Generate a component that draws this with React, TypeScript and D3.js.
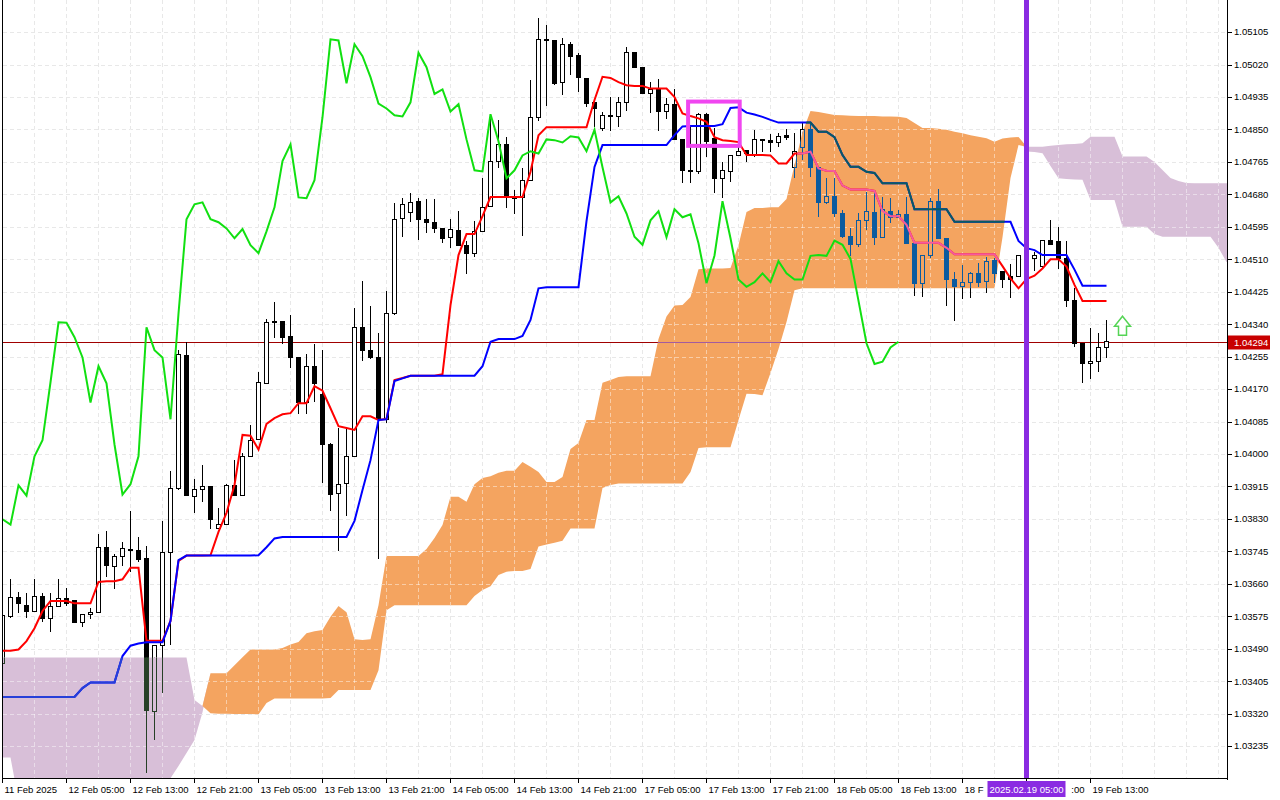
import React, { useEffect, useRef } from "react";
import * as d3 from "d3";

// EURUSD H1, bar 0 = 11 Feb 21:00. Prices in points (1 point = 0.00001)
const opens = [
  103452, 103574, 103625, 103604, 103588, 103627, 103570, 103601, 103622, 103617,
  103559, 103580, 103585, 103756, 103706, 103732, 103750, 103748, 103727, 103326,
  103499, 103742, 103910, 104258, 103890, 103908, 103915, 103805, 103816, 103918,
  103891, 103994, 104039, 104185, 104348, 104348, 104308, 104253, 104135, 104230,
  104156, 104025, 103897, 103923, 103994, 104332, 104272, 104253, 104091, 104368,
  104617, 104633, 104662, 104615, 104607, 104591, 104568, 104586, 104547, 104526,
  104583, 104649, 104767, 104811, 104675, 104672, 104717, 104882, 105086, 105083,
  104973, 105073, 105044, 104984, 104921, 104853, 104887, 104884, 104921, 105051,
  105013, 104945, 104955, 104897, 104916, 104824, 104743, 104740, 104890, 104827,
  104722, 104740, 104782, 104795, 104785, 104824, 104822, 104816, 104835, 104751,
  104803, 104849, 104751, 104659, 104675, 104630, 104570, 104548, 104612, 104633,
  104568, 104636, 104620, 104628, 104552, 104447, 104520, 104662, 104565, 104457,
  104439, 104450, 104473, 104452, 104507, 104478, 104464, 104465, 104519, 104513,
  104491, 104559, 104556, 104511, 104401, 104290, 104236, 104242, 104279,
];
const highs = [
  103591, 103673, 103638, 103635, 103674, 103635, 103635, 103674, 103648, 103618,
  103581, 103596, 103790, 103798, 103737, 103769, 103852, 103784, 103758, 103499,
  103824, 103955, 104272, 104294, 103934, 103971, 103915, 103858, 103921, 103984,
  104003, 104075, 104216, 104353, 104397, 104348, 104363, 104253, 104261, 104287,
  104272, 104028, 104067, 104072, 104382, 104452, 104387, 104316, 104426, 104657,
  104670, 104683, 104670, 104667, 104667, 104591, 104615, 104636, 104557, 104609,
  104722, 104890, 104874, 104829, 104691, 104748, 104979, 105141, 105123, 105083,
  105089, 105078, 105049, 104984, 104921, 104897, 104936, 104936, 105065, 105053,
  105013, 104973, 104981, 104932, 104955, 104824, 104861, 104892, 104892, 104853,
  104764, 104782, 104803, 104795, 104848, 104824, 104837, 104840, 104850, 104840,
  104866, 104866, 104751, 104722, 104722, 104639, 104591, 104630, 104687, 104687,
  104672, 104670, 104638, 104672, 104552, 104520, 104670, 104693, 104565, 104476,
  104494, 104477, 104499, 104515, 104513, 104478, 104497, 104519, 104534, 104530,
  104559, 104613, 104594, 104559, 104434, 104290, 104329, 104316, 104351,
];
const lows = [
  103447, 103571, 103583, 103571, 103588, 103561, 103535, 103601, 103601, 103558,
  103546, 103567, 103585, 103677, 103646, 103708, 103690, 103716, 103166, 103250,
  103375, 103499, 103906, 103891, 103845, 103875, 103803, 103805, 103816, 103891,
  103891, 103994, 104039, 104185, 104303, 104287, 104224, 104104, 104104, 104135,
  103923, 103852, 103745, 103839, 103994, 104243, 104248, 103724, 104080, 104364,
  104569, 104607, 104560, 104578, 104578, 104552, 104539, 104547, 104471, 104515,
  104583, 104649, 104748, 104643, 104628, 104570, 104717, 104871, 104911, 104966,
  104939, 104992, 104947, 104908, 104856, 104845, 104847, 104857, 104898, 105013,
  104943, 104892, 104847, 104877, 104824, 104709, 104709, 104733, 104777, 104683,
  104670, 104712, 104780, 104765, 104777, 104790, 104790, 104803, 104822, 104722,
  104770, 104726, 104622, 104654, 104620, 104565, 104519, 104543, 104586, 104547,
  104568, 104604, 104620, 104549, 104415, 104412, 104513, 104565, 104388, 104349,
  104405, 104409, 104438, 104422, 104447, 104434, 104409, 104465, 104503, 104480,
  104486, 104548, 104485, 104386, 104281, 104187, 104197, 104216, 104251,
];
const closes = [
  103578, 103625, 103609, 103588, 103627, 103570, 103601, 103622, 103609, 103558,
  103580, 103585, 103756, 103708, 103732, 103753, 103748, 103724, 103328, 103499,
  103742, 103910, 104261, 103891, 103908, 103914, 103829, 103815, 103918, 103891,
  103994, 104036, 104188, 104345, 104344, 104306, 104253, 104135, 104230, 104185,
  104025, 103894, 103921, 103994, 104332, 104272, 104253, 104091, 104368, 104615,
  104654, 104659, 104615, 104607, 104591, 104565, 104589, 104547, 104526, 104583,
  104646, 104767, 104811, 104672, 104670, 104717, 104882, 105086, 105083, 104971,
  105073, 105042, 104987, 104918, 104905, 104887, 104884, 104921, 105051, 105013,
  104943, 104955, 104897, 104916, 104824, 104743, 104740, 104890, 104819, 104722,
  104743, 104782, 104793, 104787, 104824, 104822, 104816, 104832, 104829, 104793,
  104849, 104751, 104659, 104675, 104630, 104569, 104548, 104612, 104636, 104568,
  104641, 104620, 104628, 104552, 104447, 104520, 104662, 104565, 104457, 104438,
  104450, 104473, 104450, 104505, 104473, 104457, 104457, 104519, 104521, 104519,
  104559, 104548, 104511, 104401, 104290, 104236, 104242, 104279, 104294,
];

// Tenkan-sen and Kijun-sen, one value per bar
const tenkan = [
  103485, 103485, 103488, 103510, 103544, 103589, 103615, 103615, 103615, 103609,
  103609, 103609, 103665, 103667, 103667, 103672, 103702, 103702, 103511, 103511,
  103511, 103563, 103720, 103734, 103734, 103734, 103735, 103796, 103846, 103919,
  104050, 104048, 104012, 104079, 104094, 104104, 104107, 104133, 104133, 104178,
  104166, 104120, 104073, 104068, 104063, 104099, 104099, 104089, 104092, 104194,
  104199, 104205, 104205, 104205, 104205, 104209, 104390, 104521, 104576, 104576,
  104623, 104673, 104673, 104673, 104673, 104673, 104739, 104835, 104856, 104856,
  104856, 104856, 104856, 104856, 104927, 104988, 104985, 104974, 104966, 104964,
  104964, 104957, 104957, 104957, 104935, 104892, 104885, 104879, 104870, 104830,
  104822, 104820, 104817, 104783, 104783, 104783, 104782, 104761, 104761, 104787,
  104787, 104792, 104748, 104742, 104741, 104703, 104693, 104693, 104693, 104689,
  104636, 104623, 104623, 104600, 104553, 104553, 104553, 104553, 104540, 104523,
  104523, 104523, 104523, 104523, 104523, 104492, 104460, 104434, 104458, 104467,
  104486, 104510, 104510, 104491, 104443, 104401, 104401, 104401, 104401,
];
const kijun = [
  103364, 103364, 103364, 103364, 103364, 103364, 103364, 103364, 103364, 103364,
  103387, 103402, 103402, 103402, 103402, 103471, 103498, 103504, 103507, 103507,
  103507, 103563, 103722, 103734, 103734, 103734, 103734, 103734, 103734, 103734,
  103734, 103734, 103735, 103756, 103779, 103783, 103783, 103783, 103783, 103783,
  103783, 103783, 103783, 103783, 103825, 103906, 103984, 104089, 104091, 104191,
  104198, 104205, 104205, 104205, 104205, 104205, 104205, 104205, 104205, 104205,
  104230, 104294, 104301, 104301, 104301, 104309, 104351, 104434, 104437, 104437,
  104437, 104437, 104437, 104610, 104752, 104809, 104809, 104809, 104809, 104809,
  104809, 104809, 104809, 104809, 104835, 104858, 104859, 104859, 104859, 104859,
  104864, 104906, 104908, 104894, 104889, 104883, 104875, 104868, 104868, 104868,
  104868, 104868, 104844, 104844, 104830, 104783, 104752, 104752, 104739, 104736,
  104709, 104709, 104709, 104709, 104641, 104641, 104641, 104641, 104641, 104608,
  104608, 104608, 104608, 104608, 104608, 104608, 104608, 104558, 104539, 104534,
  104521, 104521, 104521, 104521, 104483, 104441, 104441, 104441, 104441,
];

// Senkou span A / B as plotted (already shifted 26 bars ahead)
const spanA = [
  103205, 103205, 103094, 103094, 103094, 103094, 103094, 103094, 103094, 103094,
  103094, 103094, 103094, 103094, 103094, 103094, 103094, 103094, 103094, 103094,
  103120, 103151, 103183, 103217, 103251, 103324, 103426, 103426, 103426, 103447,
  103468, 103488, 103488, 103488, 103488, 103492, 103501, 103508, 103531, 103536,
  103539, 103574, 103602, 103586, 103515, 103513, 103515, 103604, 103733, 103733,
  103733, 103733, 103733, 103751, 103780, 103814, 103888, 103888, 103875, 103921,
  103937, 103942, 103951, 103956, 103956, 103979, 103967, 103953, 103927, 103927,
  103940, 104013, 104029, 104089, 104089, 104187, 104194, 104202, 104204, 104204,
  104204, 104204, 104301, 104360, 104389, 104390, 104411, 104484, 104486, 104486,
  104486, 104487, 104547, 104634, 104644, 104644, 104646, 104646, 104668, 104757,
  104843, 104898, 104896, 104892, 104888, 104887, 104886, 104885, 104885, 104885,
  104884, 104884, 104883, 104880, 104867, 104854, 104854, 104852, 104849, 104844,
  104840, 104835, 104831, 104827, 104818, 104826, 104829, 104830, 104792, 104791,
  104788, 104754, 104722, 104720, 104719, 104718, 104665, 104665, 104665, 104665,
  104595, 104595, 104595, 104595, 104576, 104569, 104569, 104569, 104569, 104569,
  104569, 104569, 104540, 104503, 104498, 104500,
];
const spanB = [
  103467, 103467, 103467, 103467, 103467, 103467, 103467, 103467, 103467, 103467,
  103467, 103467, 103467, 103467, 103467, 103467, 103467, 103467, 103467, 103467,
  103467, 103467, 103467, 103467, 103356, 103340, 103321, 103320, 103320, 103319,
  103319, 103319, 103318, 103348, 103360, 103360, 103360, 103360, 103360, 103360,
  103360, 103361, 103382, 103382, 103382, 103382, 103382, 103434, 103591, 103604,
  103604, 103604, 103604, 103604, 103604, 103604, 103604, 103604, 103604, 103628,
  103644, 103654, 103683, 103692, 103694, 103694, 103699, 103758, 103763, 103768,
  103773, 103805, 103805, 103805, 103805, 103911, 103919, 103923, 103923, 103923,
  103923, 103923, 103923, 103923, 103923, 103923, 103953, 104016, 104018, 104018,
  104018, 104018, 104089, 104158, 104157, 104154, 104212, 104275, 104346, 104429,
  104434, 104434, 104434, 104434, 104434, 104434, 104434, 104434, 104434, 104434,
  104434, 104434, 104434, 104434, 104434, 104434, 104434, 104434, 104434, 104434,
  104434, 104434, 104434, 104434, 104434, 104568, 104723, 104809, 104805, 104805,
  104805, 104807, 104809, 104811, 104812, 104814, 104831, 104831, 104831, 104831,
  104779, 104779, 104779, 104779, 104765, 104744, 104723, 104715, 104710, 104709,
  104709, 104709, 104709, 104709, 104709, 104709,
];

const priceTicks = [
  "1.05105", "1.05020", "1.04935", "1.04850", "1.04765", "1.04680", "1.04595", "1.04510",
  "1.04425", "1.04340", "1.04255", "1.04170", "1.04085", "1.04000", "1.03915", "1.03830",
  "1.03745", "1.03660", "1.03575", "1.03490", "1.03405", "1.03320", "1.03235",
];
const timeLabels = [
  "11 Feb 2025", "12 Feb 05:00", "12 Feb 13:00", "12 Feb 21:00", "13 Feb 05:00", "13 Feb 13:00",
  "13 Feb 21:00", "14 Feb 05:00", "14 Feb 13:00", "14 Feb 21:00", "17 Feb 05:00", "17 Feb 13:00",
  "17 Feb 21:00", "18 Feb 05:00", "18 Feb 13:00", "18 Feb 21:00", "19 Feb 05:00", "19 Feb 13:00",
];
const labelStep = 8;
const gridStep = 4;
const chikouShift = 26;
const lastPrice = 104294;
const lastLabel = "1.04294";
const markBar = 128;
const markLabel = "2025.02.19 05:00";
const boxBars = [85.7, 92.15];
const boxPrices = [104923, 104807];
const arrowBar = 140;
const arrowPrice = 104361;

type Palette = { ink: string; paper: string; red: string; blue: string; bid: string };

const IchimokuChart = () => {
  const ref = useRef<SVGSVGElement>(null);

  useEffect(() => {
    document.body.style.margin = "0";
    const svg = d3.select(ref.current);
    svg.selectAll("*").remove();

    const right = 1227;
    const bottom = 779;
    const font = "'Liberation Sans', Arial, sans-serif";
    const crisp = (v: number) => Math.round(v) + 0.5;

    const x = d3.scaleLinear().domain([0, 1]).range([2.5, 10.5]);
    const y = d3.scaleLinear().domain([103149, 105189]).range([bottom, 0]);
    const bars = d3.range(opens.length);
    const cloudBars = d3.range(spanA.length);

    svg.append("rect").attr("width", 1280).attr("height", 800).attr("fill", "#fff");

    const upArea = d3
      .area<number>()
      .x((i) => x(i))
      .y0((i) => y(spanB[i]))
      .y1((i) => y(Math.max(spanA[i], spanB[i])));
    const downArea = d3
      .area<number>()
      .x((i) => x(i))
      .y0((i) => y(spanA[i]))
      .y1((i) => y(Math.max(spanA[i], spanB[i])));

    const defs = svg.append("defs");
    defs
      .append("clipPath")
      .attr("id", "plotClip")
      .append("rect")
      .attr("x", 3)
      .attr("y", 0)
      .attr("width", right - 3)
      .attr("height", bottom);
    defs.append("clipPath").attr("id", "kumoUp").append("path").attr("d", upArea(cloudBars));
    defs.append("clipPath").attr("id", "kumoDown").append("path").attr("d", downArea(cloudBars));

    const plot = svg.append("g").attr("clip-path", "url(#plotClip)");

    const gridBars = d3.range(0, 154, gridStep);
    const drawGrid = (color: string) => {
      const g = plot
        .append("g")
        .attr("stroke", color)
        .attr("stroke-dasharray", "4,3")
        .attr("shape-rendering", "crispEdges");
      g.append("g")
        .selectAll("line")
        .data(gridBars)
        .join("line")
        .attr("x1", (i) => x(i))
        .attr("x2", (i) => x(i))
        .attr("y1", 0)
        .attr("y2", bottom);
      g.append("g")
        .selectAll("line")
        .data(priceTicks)
        .join("line")
        .attr("x1", 3)
        .attr("x2", right)
        .attr("y1", (t) => crisp(y(+t * 1e5)))
        .attr("y2", (t) => crisp(y(+t * 1e5)));
    };

    drawGrid("#d6d6d6");
    plot.append("path").attr("d", downArea(cloudBars)).attr("fill", "#d8bfd8");
    plot.append("path").attr("d", upArea(cloudBars)).attr("fill", "#f4a460");
    drawGrid("rgba(255,255,255,0.45)");

    const drawLayer = (g: d3.Selection<SVGGElement, unknown, null, undefined>, c: Palette) => {
      const by = crisp(y(lastPrice));
      g.append("line")
        .attr("x1", 0)
        .attr("x2", right)
        .attr("y1", by)
        .attr("y2", by)
        .attr("stroke", c.bid)
        .attr("stroke-width", 1);

      const cg = g.append("g").attr("shape-rendering", "crispEdges");
      cg.append("g")
        .selectAll("line")
        .data(bars)
        .join("line")
        .attr("x1", (i) => x(i))
        .attr("x2", (i) => x(i))
        .attr("y1", (i) => y(highs[i]))
        .attr("y2", (i) => y(lows[i]))
        .attr("stroke", c.ink);
      cg.append("g")
        .selectAll("rect")
        .data(bars)
        .join("rect")
        .attr("x", (i) => x(i) - 2)
        .attr("width", 4)
        .attr("y", (i) => y(Math.max(opens[i], closes[i])))
        .attr("height", (i) => Math.max(1, Math.abs(y(opens[i]) - y(closes[i]))))
        .attr("fill", (i) => (closes[i] >= opens[i] ? c.paper : c.ink))
        .attr("stroke", c.ink);

      const tenkanLine = d3
        .line<number>()
        .x((i) => x(i))
        .y((i) => y(tenkan[i]));
      const kijunLine = d3
        .line<number>()
        .x((i) => x(i))
        .y((i) => y(kijun[i]));
      g.append("path")
        .datum(bars)
        .attr("d", tenkanLine)
        .attr("fill", "none")
        .attr("stroke", c.red)
        .attr("stroke-width", 2);
      g.append("path")
        .datum(bars)
        .attr("d", kijunLine)
        .attr("fill", "none")
        .attr("stroke", c.blue)
        .attr("stroke-width", 2);
    };

    drawLayer(plot.append("g"), {
      ink: "#000",
      paper: "#fff",
      red: "#ff0000",
      blue: "#0000ff",
      bid: "#a00000",
    });
    // the cloud inverts what lies under it
    drawLayer(plot.append("g").attr("clip-path", "url(#kumoUp)"), {
      ink: "#0b5b9f",
      paper: "#f4a460",
      red: "#f45b9f",
      blue: "#0b5b60",
      bid: "#a35b9f",
    });
    drawLayer(plot.append("g").attr("clip-path", "url(#kumoDown)"), {
      ink: "#274027",
      paper: "#d8bfd8",
      red: "#d84027",
      blue: "#2740d8",
      bid: "#974027",
    });

    // chikou span: closes drawn 26 bars back
    const chikouBars = d3.range(0, closes.length - chikouShift);
    plot
      .append("path")
      .datum(chikouBars)
      .attr(
        "d",
        d3
          .line<number>()
          .x((i) => x(i))
          .y((i) => y(closes[i + chikouShift]))
      )
      .attr("fill", "none")
      .attr("stroke", "#11e011")
      .attr("stroke-width", 2);

    plot
      .append("line")
      .attr("x1", x(markBar))
      .attr("x2", x(markBar))
      .attr("y1", 0)
      .attr("y2", bottom)
      .attr("stroke", "#8a2be2")
      .attr("stroke-width", 5);

    plot
      .append("rect")
      .attr("x", x(boxBars[0]))
      .attr("y", y(boxPrices[0]))
      .attr("width", x(boxBars[1]) - x(boxBars[0]))
      .attr("height", y(boxPrices[1]) - y(boxPrices[0]))
      .attr("fill", "none")
      .attr("stroke", "#f046f0")
      .attr("stroke-width", 4);

    const ax = x(arrowBar);
    const ay = y(arrowPrice);
    plot
      .append("path")
      .attr(
        "d",
        `M${ax},${ay} L${ax + 8},${ay + 10} L${ax + 4},${ay + 10} L${ax + 4},${ay + 19} L${ax - 4},${ay + 19} L${ax - 4},${ay + 10} L${ax - 8},${ay + 10} Z`
      )
      .attr("fill", "#fff")
      .attr("stroke", "#55d455")
      .attr("stroke-width", 1.5);

    // frame and axes
    const frame = svg.append("g").attr("stroke", "#000").attr("shape-rendering", "crispEdges");
    frame.append("line").attr("x1", 2.5).attr("x2", 2.5).attr("y1", 0).attr("y2", bottom);
    frame
      .append("line")
      .attr("x1", right + 0.5)
      .attr("x2", right + 0.5)
      .attr("y1", 0)
      .attr("y2", bottom + 0.5);
    frame
      .append("line")
      .attr("x1", 2.5)
      .attr("x2", right + 0.5)
      .attr("y1", bottom - 0.5)
      .attr("y2", bottom - 0.5);

    const yAxis = svg.append("g").attr("font-family", font).attr("font-size", 9.5);
    yAxis
      .selectAll("line")
      .data(priceTicks)
      .join("line")
      .attr("x1", right)
      .attr("x2", right + 5)
      .attr("y1", (t) => crisp(y(+t * 1e5)))
      .attr("y2", (t) => crisp(y(+t * 1e5)))
      .attr("stroke", "#000")
      .attr("shape-rendering", "crispEdges");
    yAxis
      .selectAll("text")
      .data(priceTicks)
      .join("text")
      .attr("x", right + 7)
      .attr("y", (t) => y(+t * 1e5))
      .attr("dy", "0.35em")
      .attr("fill", "#000")
      .text((t) => t);

    const py = crisp(y(lastPrice));
    yAxis
      .append("rect")
      .attr("x", right + 1)
      .attr("y", py - 7)
      .attr("width", 42)
      .attr("height", 14)
      .attr("fill", "#c80000");
    yAxis
      .append("text")
      .attr("x", right + 7)
      .attr("y", py)
      .attr("dy", "0.35em")
      .attr("fill", "#fff")
      .text(lastLabel);

    const xAxis = svg.append("g").attr("font-family", font).attr("font-size", 9.5);
    xAxis
      .selectAll("line")
      .data(timeLabels)
      .join("line")
      .attr("x1", (_, k) => x(k * labelStep))
      .attr("x2", (_, k) => x(k * labelStep))
      .attr("y1", bottom)
      .attr("y2", bottom + 4)
      .attr("stroke", "#000")
      .attr("shape-rendering", "crispEdges");
    const timeText = xAxis
      .append("g")
      .selectAll("text")
      .data(timeLabels)
      .join("text")
      .attr("x", (_, k) => x(k * labelStep) + 2)
      .attr("y", bottom + 14)
      .attr("fill", "#000")
      .text((t) => t);

    // the highlighted time label sits over its neighbours: keep only the parts left showing
    const boxLeft = x(markBar) - 39;
    const boxRight = x(markBar) + 39;
    timeText.each(function (t, k) {
      const node = this as SVGTextElement;
      const start = x(k * labelStep) + 2;
      const end = start + node.getComputedTextLength();
      if (end <= boxLeft || start >= boxRight) return;
      let s = t;
      if (start < boxLeft) {
        while (s.length > 1 && start + node.getComputedTextLength() > boxLeft - 1) {
          s = s.slice(0, -1);
          node.textContent = s;
        }
      } else {
        d3.select(node).attr("text-anchor", "end").attr("x", end);
        while (s.length > 1 && node.getComputedTextLength() > end - boxRight - 1) {
          s = s.slice(1);
          node.textContent = s;
        }
      }
    });

    xAxis
      .append("rect")
      .attr("x", boxLeft)
      .attr("y", bottom + 2)
      .attr("width", boxRight - boxLeft)
      .attr("height", 16)
      .attr("fill", "#8a2be2");
    xAxis
      .append("text")
      .attr("x", x(markBar))
      .attr("y", bottom + 14)
      .attr("text-anchor", "middle")
      .attr("fill", "#fff")
      .text(markLabel);
  }, []);

  return <svg ref={ref} width={1280} height={800} style={{ display: "block" }} />;
};

export default function App() {
  return <IchimokuChart />;
}
